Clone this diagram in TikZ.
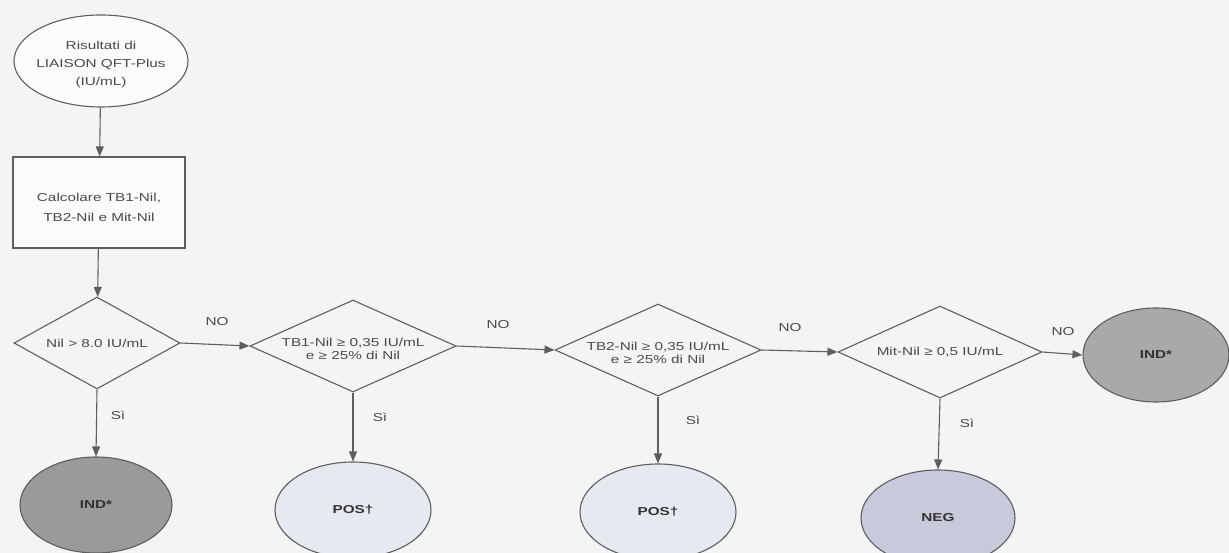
\documentclass[tikz,border=0pt]{standalone}
\usepackage{fontspec}
\setmainfont{Liberation Sans}[FakeStretch=1.33]
\usetikzlibrary{shapes.geometric,arrows.meta}
\definecolor{bgc}{HTML}{F4F4F4}
\definecolor{linec}{HTML}{5E5E5E}
\definecolor{txtc}{HTML}{4A4A4A}
\definecolor{indc}{HTML}{9A9A9A}
\definecolor{posc}{HTML}{E6E9F0}
\definecolor{negc}{HTML}{C8C9DA}
\tikzset{
  base/.style={draw=linec, line width=1.1pt, inner sep=0pt, text=txtc,
    font=\fontsize{11.5}{13}\selectfont, align=center},
  startell/.style={base, ellipse, fill=white!60!bgc, minimum width=174pt, minimum height=92pt},
  procbox/.style={base, rectangle, fill=white!60!bgc, minimum width=172pt, minimum height=91pt},
  decide/.style={base, diamond, minimum width=#1, minimum height=92pt},
  result/.style={base, ellipse, minimum width=154pt, minimum height=96pt,
    font=\fontsize{11.5}{13}\selectfont\bfseries, text=black!80},
  conn/.style={draw=linec, line width=1.1pt, -{Triangle[length=10pt,width=8pt]}},
  lab/.style={text=txtc, font=\fontsize{11.5}{13}\selectfont, inner sep=0pt, align=center},
}
\begin{document}
\begin{tikzpicture}[x=1pt,y=-1pt]
\path[fill=bgc] (0,0) rectangle (1229,553);
\useasboundingbox (0,0) rectangle (1229,553);

\node[startell] (start) at (101,61) {};
\node[lab] at ([yshift=-4pt]start.center) {Risultati di\\[5pt]LIAISON QFT-Plus\\[5pt](IU/mL)};
\node[procbox] (calc) at (99,202.5) {};
\node[lab] at ([yshift=-5pt]calc.center) {Calcolare TB1-Nil,\\[7pt]TB2-Nil e Mit-Nil};

\node[decide=166pt] (d1) at (97,343) {};
\node[lab] at (d1) {Nil > 8.0 IU/mL};
\node[decide=206pt] (d2) at (353,346) {};
\node[lab] at ([yshift=-3pt]d2.center) {TB1-Nil ≥ 0,35 IU/mL\\e ≥ 25\% di Nil};
\node[decide=206pt] (d3) at (658,350) {};
\node[lab] at ([yshift=-3pt]d3.center) {TB2-Nil ≥ 0,35 IU/mL\\e ≥ 25\% di Nil};
\node[decide=204pt] (d4) at (940,352) {};
\node[lab] at (d4) {Mit-Nil ≥ 0,5 IU/mL};

\node[result, fill=indc, minimum width=152pt] (ind1) at (96,505) {IND*};
\node[result, fill=posc, minimum width=156pt] (pos1) at (353,510) {POS†};
\node[result, fill=posc, minimum width=156pt] (pos2) at (658,512) {POS†};
\node[result, fill=negc] (neg) at (938,518) {NEG};
\node[result, fill=indc!85!white, minimum width=146pt, minimum height=94pt] (ind2) at (1156,355) {IND*};

\draw[conn] (start) -- (calc);
\draw[conn] (calc) -- (d1);
\draw[conn] (d1.east) -- (d2.west);
\draw[conn] (d2.east) -- (d3.west);
\draw[conn] (d3.east) -- (d4.west);
\draw[conn] (d4.east) -- (ind2.west);
\draw[conn] (d1.south) -- (ind1.north);
\draw[conn] (d2.south) -- (pos1.north);
\draw[conn] (d3.south) -- (pos2.north);
\draw[conn] (d4.south) -- (neg.north);

\node[lab] (no1) at (217,322) {NO};
\node[lab] (no2) at (498,325) {NO};
\node[lab] (no3) at (790,328) {NO};
\node[lab] (no4) at (1063,332) {NO};
\node[lab] (si1) at (118,415) {Sì};
\node[lab] (si2) at (380,417) {Sì};
\node[lab] (si3) at (693,420) {Sì};
\node[lab] (si4) at (967,423) {Sì};
\end{tikzpicture}
\end{document}
